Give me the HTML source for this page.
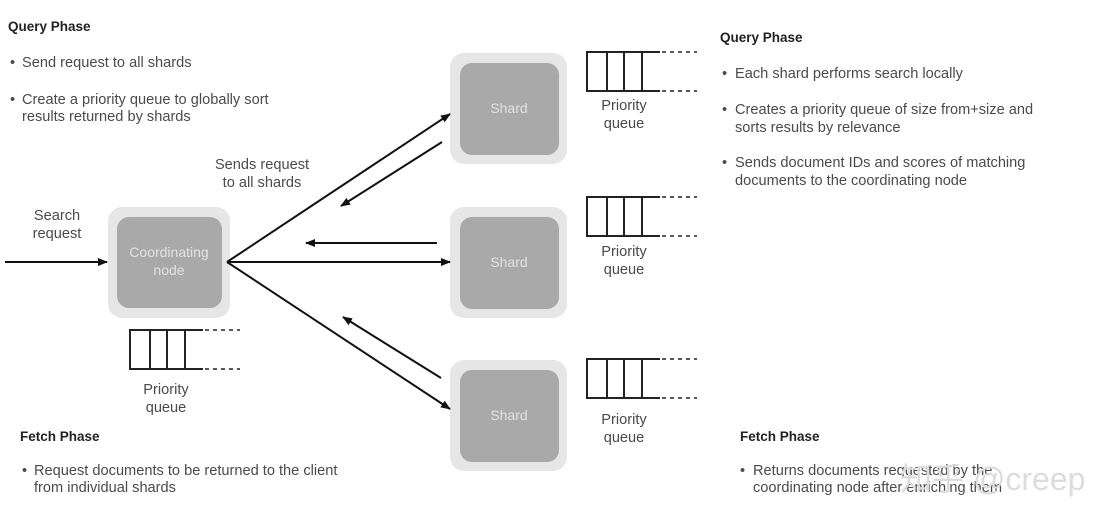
<!DOCTYPE html>
<html><head><style>
html,body{margin:0;padding:0;background:#fff;}
svg{display:block;}
text{font-family:"Liberation Sans",Arial,sans-serif;}
.t{font-size:14.6px;fill:#4a4a4a;}
.h{font-size:13.5px;font-weight:bold;fill:#222;}
.n{font-size:14px;fill:#e2e2e2;}
</style></head><body>
<svg width="1110" height="524" viewBox="0 0 1110 524" xmlns="http://www.w3.org/2000/svg">
<defs>
<marker id="a" markerWidth="10" markerHeight="8" refX="9" refY="4" orient="auto" markerUnits="userSpaceOnUse">
<path d="M0,0 L10,4 L0,8 z" fill="#111"/></marker>
</defs>
<rect width="1110" height="524" fill="#fff"/>
<!-- left text -->
<text class="h" x="8" y="31">Query Phase</text>
<text class="t" x="10" y="67">•</text><text class="t" x="22" y="67">Send request to all shards</text>
<text class="t" x="10" y="104">•</text><text class="t" x="22" y="104">Create a priority queue to globally sort</text>
<text class="t" x="22" y="121">results returned by shards</text>
<text class="h" x="20" y="441">Fetch Phase</text>
<text class="t" x="22" y="475">•</text><text class="t" x="34" y="475">Request documents to be returned to the client</text>
<text class="t" x="34" y="492">from individual shards</text>
<!-- right text -->
<text class="h" x="720" y="42">Query Phase</text>
<text class="t" x="722" y="78">•</text><text class="t" x="735" y="78">Each shard performs search locally</text>
<text class="t" x="722" y="114">•</text><text class="t" x="735" y="114">Creates a priority queue of size from+size and</text>
<text class="t" x="735" y="132">sorts results by relevance</text>
<text class="t" x="722" y="167">•</text><text class="t" x="735" y="167">Sends document IDs and scores of matching</text>
<text class="t" x="735" y="185">documents to the coordinating node</text>
<text class="h" x="740" y="441">Fetch Phase</text>
<text class="t" x="740" y="475">•</text><text class="t" x="753" y="475">Returns documents requested by the</text>
<text class="t" x="753" y="492">coordinating node after enriching them</text>
<text x="900" y="490" style="font-size:32px;fill:#dcdcdc;">知乎 @creep</text>
<!-- labels -->
<text class="t" x="57" y="220" text-anchor="middle">Search</text>
<text class="t" x="57" y="238" text-anchor="middle">request</text>
<text class="t" x="262" y="169" text-anchor="middle">Sends request</text>
<text class="t" x="262" y="187" text-anchor="middle">to all shards</text>
<!-- nodes -->
<g>
<rect x="108" y="207" width="122" height="111" rx="14" fill="#e6e6e6"/>
<rect x="117" y="217" width="105" height="91" rx="12" fill="#a9a9a9"/>
<text class="n" x="169" y="257" text-anchor="middle">Coordinating</text>
<text class="n" x="169" y="275" text-anchor="middle">node</text>
</g>
<g>
<rect x="450" y="53" width="117" height="111" rx="14" fill="#e6e6e6"/>
<rect x="460" y="63" width="99" height="92" rx="12" fill="#a9a9a9"/>
<text class="n" x="509" y="113" text-anchor="middle">Shard</text>
</g>
<g>
<rect x="450" y="207" width="117" height="111" rx="14" fill="#e6e6e6"/>
<rect x="460" y="217" width="99" height="92" rx="12" fill="#a9a9a9"/>
<text class="n" x="509" y="267" text-anchor="middle">Shard</text>
</g>
<g>
<rect x="450" y="360" width="117" height="111" rx="14" fill="#e6e6e6"/>
<rect x="460" y="370" width="99" height="92" rx="12" fill="#a9a9a9"/>
<text class="n" x="509" y="420" text-anchor="middle">Shard</text>
</g>
<!-- queues -->
<g id="q" stroke="#222" stroke-width="2" fill="none">
<path d="M660,52 H587 V91 H660 M607,52 V91 M624,52 V91 M642,52 V91"/>
<path d="M662,52 H697 M662,91 H697" stroke-dasharray="4,4" stroke-width="1.5"/>
</g>
<use href="#q" transform="translate(0,145)"/>
<use href="#q" transform="translate(0,307)"/>
<use href="#q" transform="translate(-457,278)"/>
<text class="t" x="624" y="110" text-anchor="middle">Priority</text>
<text class="t" x="624" y="128" text-anchor="middle">queue</text>
<text class="t" x="624" y="256" text-anchor="middle">Priority</text>
<text class="t" x="624" y="274" text-anchor="middle">queue</text>
<text class="t" x="624" y="424" text-anchor="middle">Priority</text>
<text class="t" x="624" y="442" text-anchor="middle">queue</text>
<text class="t" x="166" y="394" text-anchor="middle">Priority</text>
<text class="t" x="166" y="412" text-anchor="middle">queue</text>
<!-- arrows -->
<g stroke="#111" stroke-width="2" fill="none" marker-end="url(#a)">
<line x1="5" y1="262" x2="107" y2="262"/>
<line x1="227" y1="262" x2="450" y2="114"/>
<line x1="442" y1="142" x2="341" y2="206"/>
<line x1="437" y1="243" x2="306" y2="243"/>
<line x1="227" y1="262" x2="450" y2="262"/>
<line x1="441" y1="378" x2="343" y2="317"/>
<line x1="227" y1="262" x2="450" y2="409"/>
</g>
</svg>
</body></html>
